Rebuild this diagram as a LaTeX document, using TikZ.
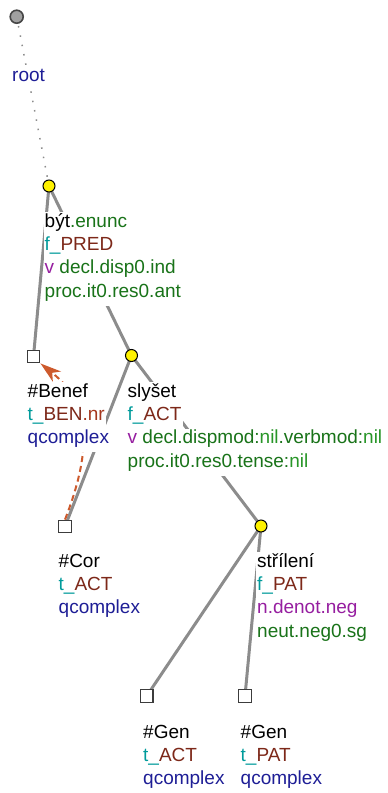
\documentclass[tikz,border=0pt]{standalone}
\usepackage{fontspec}
\setmainfont{Liberation Sans}
\usetikzlibrary{arrows.meta}
\definecolor{edgegray}{RGB}{140,140,140}
\definecolor{cteal}{RGB}{0,155,155}
\definecolor{cbrown}{RGB}{125,40,25}
\definecolor{cred}{RGB}{165,55,30}
\definecolor{cgreen}{RGB}{25,115,25}
\definecolor{clgreen}{RGB}{40,150,40}
\definecolor{cpurple}{RGB}{150,30,160}
\definecolor{cblue}{RGB}{30,30,150}
\definecolor{corange}{RGB}{205,90,45}
\newcommand{\mytp}[1]{\textcolor{cteal}{#1}}
\newcommand{\myfn}[1]{\textcolor{cbrown}{#1}}
\newcommand{\mygr}[1]{\textcolor{cgreen}{#1}}
\newcommand{\mylg}[1]{\textcolor{clgreen}{#1}}
\newcommand{\mypu}[1]{\textcolor{cpurple}{#1}}
\newcommand{\mybl}[1]{\textcolor{cblue}{#1}}
\begin{document}
\begin{tikzpicture}[x=1pt,y=-1pt,
  edge/.style={draw=edgegray, line width=3pt},
  rootedge/.style={draw=edgegray, line width=1.5pt, dash pattern=on 1.5pt off 8pt},
  coref/.style={draw=corange, line width=2pt, dash pattern=on 6pt off 4pt,
     -{Stealth[length=21pt,width=13pt,fill=corange,inset=6pt]}},
  rootnode/.style={circle, draw={rgb,255:red,70;green,70;blue,70}, line width=1.6pt, fill={rgb,255:red,160;green,160;blue,160}, minimum size=13pt, inner sep=0pt},
  tnode/.style={circle, draw=black, line width=1pt, fill=yellow, minimum size=12pt, inner sep=0pt},
  hnode/.style={rectangle, draw={rgb,255:red,60;green,60;blue,60}, line width=1.4pt, fill=white, minimum size=12.5pt, inner sep=0pt},
  lbl/.style={anchor=base west, fill=white, inner xsep=1pt, inner ysep=0pt, text height=15pt, text depth=8.4pt, font=\fontsize{19}{23}\selectfont}
]
\useasboundingbox (0,0) rectangle (388,793);
% node coordinates
\coordinate (pr) at (16.7,16.7);
\coordinate (pb) at (49,186);
\coordinate (pbe) at (33.5,356.5);
\coordinate (ps) at (131.5,355.5);
\coordinate (pc) at (65,526.5);
\coordinate (pst) at (261,526);
\coordinate (pg1) at (146.7,696);
\coordinate (pg2) at (245,696);
% edges
\draw[rootedge] (pr) -- (pb);
\draw[edge] (pb) -- (pbe);
\draw[edge] (pb) -- (ps);
\draw[edge] (ps) -- (pc);
\draw[edge] (ps) -- (pst);
\draw[edge] (pst) -- (pg1);
\draw[edge] (pst) -- (pg2);
% nodes
\node[rootnode] (root) at (pr) {};
\node[tnode] (byt) at (pb) {};
\node[hnode] (benef) at (pbe) {};
\node[tnode] (slyset) at (ps) {};
\node[hnode] (cor) at (pc) {};
\node[tnode] (strileni) at (pst) {};
\node[hnode] (gen1) at (pg1) {};
\node[hnode] (gen2) at (pg2) {};
% coreference arrow
\draw[coref] (cor.north) .. controls (100,430) and (80,395) .. (benef.south east);
% labels
\node[lbl] (lroot) at (11,81.5) {\mybl{root}};
\node[lbl] (lb1) at (43.5,227) {být\mygr{.enunc}};
\node[lbl] (lb2) at (43.5,250.4) {\mytp{f\_}\myfn{PRED}};
\node[lbl] (lb3) at (43.5,273.8) {\mypu{v} \mygr{decl.disp0.ind}};
\node[lbl] (lb4) at (43.5,297.2) {\mygr{proc.it0.res0.ant}};
\node[lbl] (lbe1) at (26.5,397) {\#Benef};
\node[lbl] (lbe2) at (26.5,420.4) {\mytp{t\_}\myfn{BEN}\textcolor{cred}{.nr}};
\node[lbl] (lbe3) at (26.5,443.8) {\mybl{qcomplex}};
\node[lbl] (ls1) at (126.5,397) {slyšet};
\node[lbl] (ls2) at (126.5,420.4) {\mytp{f\_}\myfn{ACT}};
\node[lbl] (ls3) at (126.5,443.8) {\mypu{v} \mygr{decl.dispmod:}\mylg{nil}\mygr{.verbmod:}\mylg{nil}};
\node[lbl] (ls4) at (126.5,467.2) {\mygr{proc.it0.res0.tense:}\mylg{nil}};
\node[lbl] (lc1) at (57.5,567) {\#Cor};
\node[lbl] (lc2) at (57.5,590.4) {\mytp{t\_}\myfn{ACT}};
\node[lbl] (lc3) at (57.5,613.8) {\mybl{qcomplex}};
\node[lbl] (lst1) at (256,567) {střílení};
\node[lbl] (lst2) at (256,590.4) {\mytp{f\_}\myfn{PAT}};
\node[lbl] (lst3) at (256,613.8) {\mypu{n.denot.neg}};
\node[lbl] (lst4) at (256,637.2) {\mygr{neut.neg0.sg}};
\node[lbl] (lg11) at (142,738) {\#Gen};
\node[lbl] (lg12) at (142,761.4) {\mytp{t\_}\myfn{ACT}};
\node[lbl] (lg13) at (142,784.8) {\mybl{qcomplex}};
\node[lbl] (lg21) at (239.5,738) {\#Gen};
\node[lbl] (lg22) at (239.5,761.4) {\mytp{t\_}\myfn{PAT}};
\node[lbl] (lg23) at (239.5,784.8) {\mybl{qcomplex}};
\end{tikzpicture}
\end{document}
